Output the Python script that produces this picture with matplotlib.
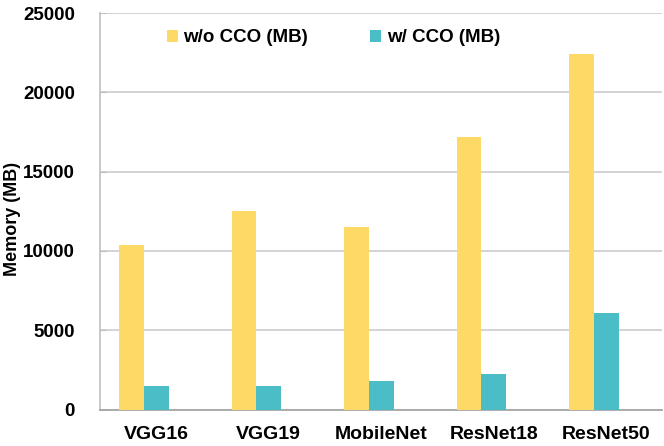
import numpy as np
import matplotlib
matplotlib.use("Agg")
import matplotlib.pyplot as plt

# Data
models = ["VGG16", "VGG19", "MobileNet", "ResNet18", "ResNet50"]
without_cco = [10400, 12500, 11500, 17200, 22400]
with_cco = [1500, 1500, 1800, 2250, 6100]

plt.rcParams['font.family'] = ['Liberation Sans', 'DejaVu Sans']
plt.rcParams['font.weight'] = 'bold'

fig = plt.figure(figsize=(6.64, 4.46), dpi=100)
ax = fig.add_axes([0.1506, 0.0818, 0.847, 0.889])

x = np.arange(len(models))
w = 0.22
ax.bar(x - w, without_cco, w, color='#FFD966', label='w/o CCO (MB)', zorder=3)
ax.bar(x, with_cco, w, color='#4BBDC6', label='w/ CCO (MB)', zorder=3)

ax.set_xlim(-0.5, len(models) - 0.5)
ax.set_ylim(0, 25000)
ax.set_yticks(np.arange(0, 25001, 5000))
ax.set_xticks(x)
ax.set_xticklabels(models, fontsize=14, fontweight='bold')
ax.tick_params(axis='x', length=0, pad=12)
ax.tick_params(axis='y', length=4, direction='in', color='#BFBFBF', labelsize=13.5, pad=18)
for lab in ax.get_yticklabels():
    lab.set_fontweight('bold')

ax.grid(axis='y', color='#D0D0D0', linewidth=1.3, zorder=0)
for s in ['top', 'right']:
    ax.spines[s].set_visible(False)
ax.spines['left'].set_color('#BFBFBF')
ax.spines['bottom'].set_color('#A6A6A6')
ax.spines['left'].set_linewidth(1.2)
ax.spines['bottom'].set_linewidth(1.3)

fig.text(0.019, 0.51, 'Memory (MB)', rotation=90, fontsize=13, fontweight='bold',
         ha='center', va='center')

fig.legend(loc='center', bbox_to_anchor=(0.502, 1 - 38 / 446), ncol=2, frameon=False,
           handlelength=0.6, handleheight=0.6, handletextpad=0.3,
           columnspacing=3.3, prop={'weight': 'bold', 'size': 13.5})

fig.savefig('out.png', dpi=100)
